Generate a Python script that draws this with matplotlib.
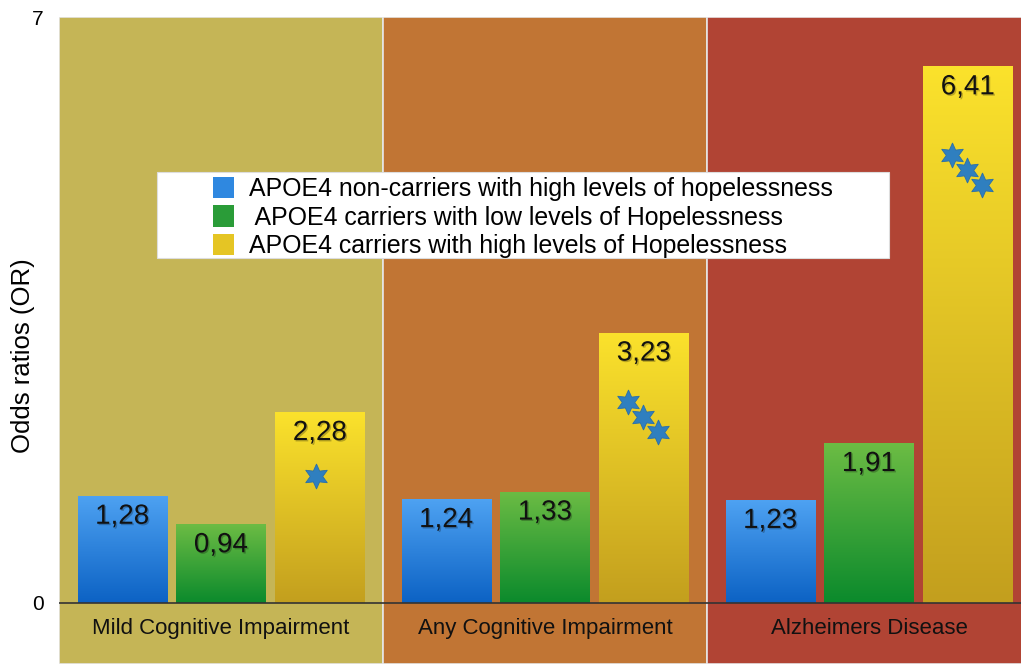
import numpy as np
import matplotlib
matplotlib.use("Agg")
import matplotlib.pyplot as plt
import matplotlib.patheffects as pe
from matplotlib.colors import LinearSegmentedColormap
from matplotlib.patches import Patch, Rectangle

plt.rcParams['font.family'] = ['Liberation Sans', 'DejaVu Sans']

categories = ['Mild Cognitive Impairment', 'Any Cognitive Impairment', 'Alzheimers Disease']
series_names = ['APOE4 non-carriers with high levels of hopelessness',
                ' APOE4 carriers with low levels of Hopelessness',
                'APOE4 carriers with high levels of Hopelessness']
non_carriers_high = [1.28, 1.24, 1.23]
carriers_low = [0.94, 1.33, 1.91]
carriers_high = [2.28, 3.23, 6.41]
stars_count = [1, 3, 3]          # significance stars on the last bar
star_drop = [0.76, 0.83, 1.06]   # how far below the bar top the first star sits

panel_colors = ['#c5b556', '#c17534', '#b14434']
bar_grad = [('#0c62c4', '#4ea2f2'), ('#0b8a2c', '#6cbc44'), ('#c39f1e', '#fbe22c')]
legend_colors = ['#2f88e0', '#2a9c38', '#e5c524']

fig = plt.figure(figsize=(10.21, 6.64), dpi=100)
ax = fig.add_axes([59 / 1021, 0, 1 - 59 / 1021, 1 - 17 / 664])

x = np.arange(len(categories))
width = 0.275
step = 0.305

for i, c in enumerate(panel_colors):
    ax.axvspan(i - 0.5, i + 0.5, facecolor=c, edgecolor='#e6e6e6', lw=1.2, zorder=0)

shadow = [pe.SimplePatchShadow(offset=(1, -1), alpha=0.25), pe.Normal()]
series = [non_carriers_high, carriers_low, carriers_high]
grad = np.linspace(0, 1, 256).reshape(-1, 1)
for k, vals in enumerate(series):
    bars = ax.bar(x + (k - 1) * step, vals, width, color='none', zorder=2)
    cmap = LinearSegmentedColormap.from_list('g%d' % k, list(bar_grad[k]))
    for b, v in zip(bars, vals):
        bx, bw = b.get_x(), b.get_width()
        im = ax.imshow(grad, extent=[bx, bx + bw, 0, v], origin='lower', cmap=cmap,
                       aspect='auto', zorder=2)
        im.set_clip_path(b)
        ax.text(bx + bw / 2, v - 0.25, f'{v:.2f}'.replace('.', ','), ha='center',
                va='center', fontsize=20, color='#111111', zorder=4,
                path_effects=shadow)

# stars
for i, n in enumerate(stars_count):
    xc = x[i] + step
    top = carriers_high[i] - star_drop[i]
    xs = xc - 0.05 * (n - 1) / 2 + 0.047 * np.arange(n) - (0.012 if n == 1 else 0)
    ys = top - 0.18 * np.arange(n)
    ax.plot(xs, ys, linestyle='none', marker=(6, 1, 0), markersize=18,
            color='#2f7fbf', markeredgecolor='#2a6fa8', markeredgewidth=0.6, zorder=5)

ax.axhline(0, color='#333333', lw=1.2, zorder=3)

ax.set_xlim(-0.5, -0.5 + 962 / 324)
ax.set_ylim(-61 / 83.7, 7)
ax.set_yticks([0, 7])
ax.set_yticklabels(['0', '7'], fontsize=15)
ax.tick_params(axis='y', length=0, pad=11)
ax.set_xticks([])
for s in ax.spines.values():
    s.set_visible(False)

for i, cat in enumerate(categories):
    ax.text(x[i], -0.30, cat, ha='center', va='center', fontsize=16, color='#111111')

fig.text(23 / 1021, 1 - 356 / 664, 'Odds ratios (OR)', rotation=90, ha='center',
         va='center', fontsize=18.5)

# legend on a white box
fig.add_artist(Rectangle((157 / 1021, 1 - 258 / 664), 732 / 1021, 86 / 664,
                         transform=fig.transFigure, facecolor='white',
                         edgecolor='#dddddd', lw=0.8, zorder=5))
handles = [Patch(facecolor=c, edgecolor='none') for c in legend_colors]
leg = fig.legend(handles, series_names, loc='upper left',
                 bbox_to_anchor=(213 / 1021, 1 - 177 / 664), frameon=False,
                 fontsize=17.9, handlelength=0.85, handleheight=0.95,
                 handletextpad=0.6, labelspacing=0.17, borderpad=0,
                 borderaxespad=0)
leg.set_zorder(6)

fig.savefig('out.png', dpi=100)
